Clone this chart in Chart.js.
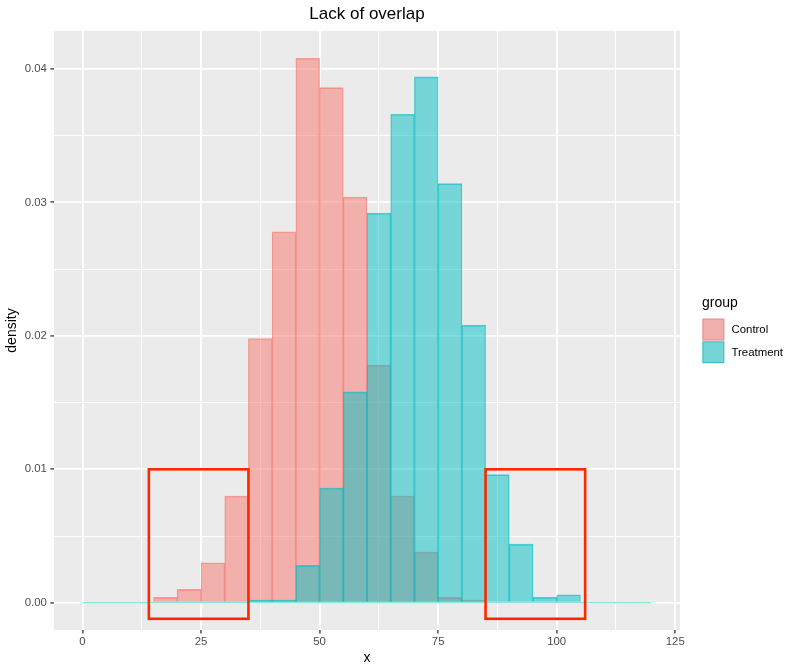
<!DOCTYPE html>
<html>
<head>
<meta charset="utf-8">
<script src="https://cdn.jsdelivr.net/npm/chart.js@4.4.1/dist/chart.umd.min.js"></script>
<style>
html,body{margin:0;padding:0;background:#ffffff;}
#wrap{width:800px;height:672px;position:relative;}
</style>
</head>
<body>
<div id="wrap"><canvas id="c" width="800" height="672"></canvas></div>
<script>
// ---- data ----
const binStarts = [0,5,10,15,20,25,30,35,40,45,50,55,60,65,70,75,80,85,90,95,100,105,110,115];
const binWidth = 5;
const groups = ['Control', 'Treatment'];
const controlDensity = [0,0,0,0.0004,0.001,0.003,0.008,0.0198,0.0278,0.0408,0.0386,0.0304,0.0178,0.008,0.0038,0.0004,0.0002,0,0,0,0,0,0,0];
const treatmentDensity = [0,0,0,0,0,0,0,0.0002,0.0002,0.0028,0.0086,0.0158,0.0292,0.0366,0.0394,0.0314,0.0208,0.0096,0.0044,0.0004,0.0006,0,0,0];
const xTickValues = [0,25,50,75,100,125];
const xTickLabels = ['0','25','50','75','100','125'];
const yTickValues = [0,0.01,0.02,0.03,0.04];
const yTickLabels = ['0.00','0.01','0.02','0.03','0.04'];
// highlighted regions (data units)
const highlightXMin = [14, 85];
const highlightXMax = [35, 106];
const highlightYMin = [-0.0012, -0.0012];
const highlightYMax = [0.01, 0.01];

// ---- derived ----
const xMin = -6, xMax = 126;
const yMin = -0.00204, yMax = 0.04284;
const toPoints = arr => arr.map((v, i) => ({x: binStarts[i] + binWidth / 2, y: v}));
const baseline = [{x: binStarts[0], y: 0}, {x: binStarts[binStarts.length - 1] + binWidth, y: 0}];

function buildTicks(major, min, max) {
  const step = major[1] - major[0];
  const out = [];
  const first = major[0] - step / 2;
  for (let v = first; v <= max + 1e-12; v += step / 2) {
    if (v < min - 1e-12) continue;
    const idx = major.findIndex(m => Math.abs(m - v) < step * 1e-6);
    out.push({value: idx >= 0 ? major[idx] : v, isMajor: idx >= 0, labelIdx: idx});
  }
  return out;
}

const FONT = "'Liberation Sans', Arial, Helvetica, sans-serif";
Chart.defaults.font.family = FONT;

const panelBg = {
  id: 'panelBg',
  beforeDraw(chart) {
    const {ctx, chartArea: a} = chart;
    ctx.save();
    ctx.fillStyle = '#ffffff';
    ctx.fillRect(0, 0, chart.width, chart.height);
    ctx.fillStyle = '#EBEBEB';
    ctx.fillRect(a.left, a.top, a.right - a.left, a.bottom - a.top);
    ctx.restore();
  }
};

const highlight = {
  id: 'highlight',
  afterDatasetsDraw(chart) {
    const {ctx} = chart;
    const xs = chart.scales.x, ys = chart.scales.y;
    ctx.save();
    ctx.strokeStyle = '#FF2600';
    ctx.lineWidth = 2.6;
    for (let i = 0; i < highlightXMin.length; i++) {
      const x0 = xs.getPixelForValue(highlightXMin[i]);
      const x1 = xs.getPixelForValue(highlightXMax[i]);
      const y0 = ys.getPixelForValue(highlightYMax[i]);
      const y1 = ys.getPixelForValue(highlightYMin[i]);
      ctx.strokeRect(x0, y0, x1 - x0, y1 - y0);
    }
    ctx.restore();
  }
};

const fills = ['rgba(248,118,109,0.5)', 'rgba(0,191,196,0.5)'];
const strokes = ['rgba(248,118,109,0.65)', 'rgba(0,191,196,0.65)'];

const sideLegend = {
  id: 'sideLegend',
  afterDraw(chart) {
    const {ctx, chartArea: a} = chart;
    const left = a.right + 22;
    const cy = (a.top + a.bottom) / 2;
    const keyTop = cy - 12.3;
    const key = 22.7;
    ctx.save();
    ctx.fillStyle = '#000000';
    ctx.font = '14px ' + FONT;
    ctx.textBaseline = 'alphabetic';
    ctx.textAlign = 'left';
    ctx.fillText('group', left, keyTop - 10.8);
    ctx.font = '11.4px ' + FONT;
    ctx.textBaseline = 'middle';
    for (let i = 0; i < groups.length; i++) {
      const y = keyTop + i * key;
      ctx.fillStyle = '#EBEBEB';
      ctx.fillRect(left, y, key, key);
      ctx.fillStyle = fills[i];
      ctx.fillRect(left + 0.5, y + 0.5, key - 1, key - 1);
      ctx.strokeStyle = strokes[i];
      ctx.lineWidth = 1;
      ctx.strokeRect(left + 1, y + 1, key - 2, key - 2);
      ctx.fillStyle = '#000000';
      ctx.fillText(groups[i], left + 29.5, y + key / 2 + 0.5);
    }
    ctx.restore();
  }
};

const gridOpts = {
  color: '#FFFFFF',
  lineWidth: c => (c.tick && c.tick.isMajor) ? 1.85 : 0.93,
  drawTicks: true,
  tickLength: 3.6,
  tickWidth: 1.3,
  tickColor: c => (c.tick && c.tick.isMajor) ? '#333333' : 'rgba(0,0,0,0)',
  offset: false
};

new Chart(document.getElementById('c'), {
  type: 'bar',
  data: {
    datasets: [
      {
        label: groups[0],
        data: toPoints(controlDensity),
        backgroundColor: fills[0],
        borderColor: strokes[0],
        borderWidth: {top: 1, left: 0.6, right: 0.6, bottom: 0},
        borderSkipped: false,
        grouped: false,
        barPercentage: 1,
        categoryPercentage: 1,
        order: 2
      },
      {
        label: groups[1],
        data: toPoints(treatmentDensity),
        backgroundColor: fills[1],
        borderColor: strokes[1],
        borderWidth: {top: 1, left: 0.6, right: 0.6, bottom: 0},
        borderSkipped: false,
        grouped: false,
        barPercentage: 1,
        categoryPercentage: 1,
        order: 1
      },
      {
        type: 'line',
        label: 'baseline',
        data: baseline,
        borderColor: 'rgba(0,191,196,0.6)',
        borderWidth: 1,
        pointRadius: 0,
        fill: false,
        order: 0
      }
    ]
  },
  options: {
    responsive: false,
    animation: false,
    events: [],
    layout: {padding: {left: 0, right: 120, top: 0, bottom: 0}},
    plugins: {
      legend: {display: false},
      tooltip: {enabled: false},
      title: {
        display: true,
        text: 'Lack of overlap',
        fullSize: false,
        color: '#000000',
        font: {size: 17, weight: 'normal', family: FONT},
        padding: {top: 3.8, bottom: 6.8}
      }
    },
    scales: {
      x: {
        type: 'linear',
        min: xMin,
        max: xMax,
        offset: false,
        grid: gridOpts,
        border: {display: false},
        afterBuildTicks: s => { s.ticks = buildTicks(xTickValues, xMin, xMax); },
        afterFit: s => { s.height = 42; },
        ticks: {
          autoSkip: false,
          maxRotation: 0,
          minRotation: 0,
          padding: 1.5,
          color: '#4D4D4D',
          font: {size: 11.4},
          callback: function(v, i, t) { const tk = t[i]; return tk && tk.isMajor ? xTickLabels[tk.labelIdx] : ''; }
        },
        title: {
          display: true,
          text: 'x',
          color: '#000000',
          font: {size: 14},
          padding: {top: 0, bottom: 5.6}
        }
      },
      y: {
        type: 'linear',
        min: yMin,
        max: yMax,
        beginAtZero: false,
        grid: gridOpts,
        border: {display: false},
        afterBuildTicks: s => { s.ticks = buildTicks(yTickValues, yMin, yMax); },
        afterFit: s => { s.width = 54; },
        ticks: {
          autoSkip: false,
          padding: 3.5,
          color: '#4D4D4D',
          font: {size: 11.4},
          callback: function(v, i, t) { const tk = t[i]; return tk && tk.isMajor ? yTickLabels[tk.labelIdx] : ''; }
        },
        title: {
          display: true,
          text: 'density',
          color: '#000000',
          font: {size: 14},
          padding: {top: 3.6, bottom: 0}
        }
      }
    }
  },
  plugins: [panelBg, highlight, sideLegend]
});
</script>
</body>
</html>
